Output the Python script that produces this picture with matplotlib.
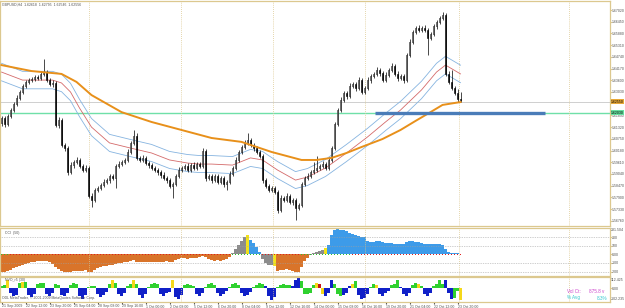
import matplotlib.pyplot as plt

plt.rcParams["font.family"] = ["Liberation Sans Narrow", "Liberation Sans", "DejaVu Sans"]

# GBPUSD H4 candles (open = previous close)
first_open = 1.6150
closes = [
    1.6176, 1.6147, 1.6186, 1.6215, 1.6245, 1.6274, 1.6303, 1.6332, 1.6352, 1.6361,
    1.6366, 1.6376, 1.6371, 1.6391, 1.6400, 1.6361, 1.6342, 1.6347, 1.6142, 1.6167,
    1.6045, 1.6030, 1.5913, 1.5947, 1.5962, 1.5972, 1.5943, 1.5923, 1.5933, 1.5797,
    1.5777, 1.5826, 1.5835, 1.5850, 1.5865, 1.5874, 1.5894, 1.5884, 1.5943, 1.5952,
    1.5962, 1.5972, 1.6011, 1.6055, 1.6089, 1.5982, 1.5972, 1.5982, 1.5957, 1.5947,
    1.5933, 1.5923, 1.5913, 1.5899, 1.5884, 1.5874, 1.5845, 1.5855, 1.5894, 1.5923,
    1.5933, 1.5943, 1.5923, 1.5947, 1.5933, 1.5952, 1.5943, 1.6016, 1.5884, 1.5894,
    1.5874, 1.5894, 1.5865, 1.5884, 1.5855, 1.5865, 1.5904, 1.5933, 1.5972, 1.6011,
    1.6035, 1.6055, 1.6069, 1.6045, 1.6030, 1.6011, 1.5991, 1.5874, 1.5845, 1.5826,
    1.5835, 1.5816, 1.5728, 1.5787, 1.5777, 1.5797, 1.5767, 1.5777, 1.5738, 1.5753,
    1.5855, 1.5884, 1.5894, 1.5913, 1.5923, 1.5933, 1.5943, 1.5952, 1.5933, 1.5972,
    1.6030, 1.6147, 1.6215, 1.6264, 1.6298, 1.6283, 1.6332, 1.6342, 1.6322, 1.6361,
    1.6303, 1.6322, 1.6361, 1.6381, 1.6391, 1.6410, 1.6395, 1.6361, 1.6386, 1.6410,
    1.6430, 1.6391, 1.6371, 1.6381, 1.6361, 1.6483, 1.6547, 1.6595, 1.6615, 1.6605,
    1.6615, 1.6605, 1.6566, 1.6585, 1.6624, 1.6644, 1.6663, 1.6678, 1.6391, 1.6352,
    1.6322, 1.6298, 1.6269, 1.6264,
]
# wick lengths in pips
upper_wick = [
    10, 12, 8, 10, 8, 12, 10, 8, 10, 12,
    8, 10, 12, 15, 63, 10, 8, 12, 10, 15,
    10, 12, 8, 15, 10, 12, 10, 8, 15, 10,
    12, 10, 8, 10, 12, 8, 10, 12, 10, 15,
    8, 10, 12, 10, 30, 15, 10, 12, 10, 8,
    10, 12, 8, 10, 12, 10, 8, 10, 12, 15,
    10, 8, 12, 10, 15, 10, 12, 15, 10, 12,
    8, 10, 12, 10, 8, 10, 12, 10, 15, 10,
    12, 15, 34, 10, 12, 8, 10, 10, 12, 8,
    10, 12, 10, 15, 10, 12, 10, 8, 12, 10,
    10, 12, 15, 10, 40, 60, 10, 15, 10, 12,
    10, 12, 10, 15, 12, 10, 15, 12, 10, 15,
    12, 10, 15, 12, 10, 15, 12, 10, 15, 12,
    15, 10, 12, 10, 12, 10, 15, 12, 10, 12,
    10, 15, 12, 10, 12, 10, 12, 15, 10, 12,
    58, 12, 20, 35,
]
lower_wick = [
    12, 15, 10, 12, 8, 10, 12, 8, 10, 12,
    10, 8, 12, 10, 12, 10, 8, 15, 10, 12,
    10, 12, 15, 10, 12, 8, 10, 12, 8, 10,
    34, 12, 10, 8, 12, 10, 15, 10, 49, 12,
    10, 8, 12, 10, 12, 10, 8, 12, 10, 12,
    8, 10, 12, 15, 10, 12, 10, 58, 10, 12,
    10, 12, 8, 10, 12, 10, 8, 12, 15, 10,
    12, 10, 8, 12, 15, 30, 10, 12, 8, 10,
    12, 10, 8, 10, 12, 10, 8, 12, 10, 12,
    10, 12, 15, 10, 12, 10, 8, 12, 58, 10,
    12, 10, 8, 12, 10, 8, 12, 10, 12, 10,
    8, 10, 12, 10, 8, 12, 10, 8, 12, 10,
    12, 10, 8, 12, 10, 8, 12, 10, 8, 12,
    10, 12, 15, 10, 12, 10, 8, 12, 10, 8,
    12, 10, 83, 10, 8, 12, 10, 8, 10, 12,
    10, 12, 15, 10,
]

# moving averages read at some bars
slow_ma_bars = [0, 10, 20, 25, 30, 40, 50, 60, 70, 80, 90, 100, 105, 110, 115,
                120, 127, 133, 138, 143, 147, 153]
slow_ma = [1.6434, 1.6405, 1.6391, 1.6352, 1.6288, 1.6205, 1.6157, 1.6118, 1.6079,
           1.6060, 1.6011, 1.5972, 1.5972, 1.5982, 1.6006, 1.6035, 1.6074, 1.6118,
           1.6162, 1.6205, 1.6240, 1.6254]
fast_ma_bars = [0, 7, 17, 20, 23, 26, 30, 36, 43, 50, 56, 62, 66, 70, 77, 83, 87,
                92, 98, 102, 108, 115, 122, 128, 133, 140, 145, 148, 153]
fast_ma = [1.6400, 1.6361, 1.6361, 1.6347, 1.6303, 1.6225, 1.6132, 1.6055, 1.6030,
           1.6006, 1.5972, 1.5957, 1.5952, 1.5952, 1.5947, 1.5982, 1.5972, 1.5923,
           1.5874, 1.5889, 1.5933, 1.6006, 1.6084, 1.6157, 1.6215, 1.6313, 1.6400,
           1.6434, 1.6391]
envelope_dev = 0.0026

bid = 1.6255
level = 1.6203
level_start, level_end = 124.5, 181

price_ticks = [1.67020, 1.66450, 1.65880, 1.65310, 1.64740, 1.64170, 1.63600,
               1.63030, 1.61890, 1.61320, 1.60750, 1.60180, 1.59610, 1.59040,
               1.58470, 1.57900, 1.57330, 1.56760]

# CCI(50) histogram
cci = [
    -200, -210, -190, -180, -160, -150, -130, -120, -110, -100,
    -90, -85, -80, -75, -75, -80, -90, -110, -150, -170,
    -190, -200, -205, -200, -195, -190, -195, -190, -185, -200,
    -200, -180, -160, -150, -140, -130, -120, -120, -110, -105,
    -100, -95, -90, -80, -70, -85, -90, -85, -90, -95,
    -90, -85, -90, -95, -90, -80, -90, -85, -70, -60,
    -40, -45, -50, -40, -45, -40, -35, -20, -30, -60,
    -70, -75, -70, -75, -70, -60, -30, 20, 60, 110,
    160, 200, 230, 170, 130, 80, 30, -50, -100, -120,
    -125, -135, -190, -180, -185, -175, -185, -190, -205, -200,
    -150, -80, -40, -10, 20, 30, 40, 45, 70, 110,
    220, 285, 290, 285, 280, 270, 250, 240, 225, 215,
    205, 200, 150, 140, 140, 150, 150, 140, 135, 130,
    130, 125, 120, 115, 120, 140, 150, 150, 145, 140,
    130, 125, 120, 120, 120, 120, 118, 110, 60, 25,
    20, 15, 10, 5,
]
cci_kind = ("o" * 77 + "g" * 5 + "y" + "b" * 4 + "g" * 4 + "y" + "o" * 11
            + "g" * 5 + "y" + "b" * 45)
cci_dots = "g" * 3 + "r" * 74 + "g" * 10 + "r" * 13 + "g" * 17 + "r" * 37

# volume oscillator
vol = [
    20, 30, 85, -40, -70, -60, 50, 60, 65, -60,
    -80, -50, 40, 55, 50, -50, -70, -40, 40, 35,
    -60, -70, -40, 30, 50, 45, -70, -100, -60, 15,
    25, 20, -50, -80, -60, -30, 40, 85, 50, -50,
    -70, -40, 20, 40, 80, 45, -60, -90, -50, 10,
    40, 50, 45, -50, -70, -40, -30, 85, -80, -100,
    -60, 30, 40, 35, 25, -50, -70, -40, 10, 40,
    50, 30, -40, -70, -50, -20, 10, 40, 50, 35,
    -40, -70, -60, -30, 10, 35, 50, 40, 20, -70,
    -110, -80, 10, 30, 40, 35, 30, 20, 80, 130,
    70, -50, -55, -40, 30, 50, 40, -50, -70, -40,
    80, 40, -50, -70, -60, -40, 20, 45, 70, -60,
    -100, -90, -50, 10, 40, 35, -50, -70, -40, -20,
    30, 45, 80, 10, -50, -70, -40, 30, 50, 45,
    25, -50, -70, -40, 20, 45, 80, 40, 85, -40,
    -100, -90, -20, -110,
]
vol_kind = ("ggybbbgyg" "bbbgggbbbgg" "bbbgggbbbggg" "bbbbgygbbbggygbbbgggg"
            "bbbbybbbggggbbbgggg" "bbbbggggbbbbggggbbbbgggggbbbgggggy"
            "rybbbgggbbbyg" "bbbbggybbbbgggbbbbggyg" "bbbggggbbbggygybbbb")

date_bars = list(range(0, 160, 8))
date_labels = ["21 Sep 2009", "22 Sep 12:00", "23 Sep 20:00", "25 Sep 04:00",
               "28 Sep 08:00", "29 Sep 16:00", "1 Oct 00:00", "2 Oct 08:00",
               "5 Oct 12:00", "6 Oct 20:00", "8 Oct 04:00", "9 Oct 12:00",
               "12 Oct 16:00", "14 Oct 00:00", "15 Oct 08:00", "16 Oct 16:00",
               "19 Oct 20:00", "21 Oct 04:00", "22 Oct 12:00", "23 Oct 20:00"]
grid_bars = [29, 59.8, 90.5, 121.2, 152.5, 189]

tan = "#dcc88f"
txt = "#505050"
fs = 2.5

fig = plt.figure(figsize=(6.25, 3.08), dpi=100)
ax = fig.add_axes([0.0, 1 - 226 / 308, 610 / 625, 225 / 308])
cax = fig.add_axes([0.0, 1 - 276 / 308, 610 / 625, 48 / 308], sharex=ax)
vax = fig.add_axes([0.0, 1 - 302 / 308, 610 / 625, 25 / 308], sharex=ax)

for a in (ax, cax, vax):
    for s in a.spines.values():
        s.set_color(tan)
        s.set_linewidth(0.9)
    a.yaxis.tick_right()
    a.tick_params(axis="y", labelsize=fs, length=1.2, color=tan, labelcolor=txt, pad=0.4)
    a.tick_params(axis="x", length=0, labelbottom=False)
    for g in grid_bars:
        a.axvline(g, color=tan, lw=0.6, ls=(0, (1, 1.5)))

# candles
n = len(closes)
idx = list(range(n))
opens = [first_open] + closes[:-1]
highs = [max(o, c) + u / 10000 for o, c, u in zip(opens, closes, upper_wick)]
lows = [min(o, c) - d / 10000 for o, c, d in zip(opens, closes, lower_wick)]
ax.vlines(idx, lows, highs, color="black", lw=0.5, zorder=3)
face = ["white" if c >= o else "black" for o, c in zip(opens, closes)]
ax.bar(idx, [c - o for o, c in zip(opens, closes)], bottom=opens, width=0.62,
       color=face, edgecolor="black", linewidth=0.4, zorder=4)

ax.plot(slow_ma_bars, slow_ma, color="#e8901a", lw=1.4, zorder=5)
ax.plot(fast_ma_bars, fast_ma, color="#d46a6a", lw=0.6, zorder=2)
ax.plot(fast_ma_bars, [v * (1 + envelope_dev) for v in fast_ma], color="#86b4e0", lw=0.6, zorder=2)
ax.plot(fast_ma_bars, [v * (1 - envelope_dev) for v in fast_ma], color="#86b4e0", lw=0.6, zorder=2)

ax.axhline(bid, color="#c8c8c8", lw=0.6, zorder=1)
ax.axhline(level, color="#6fe0a8", lw=1.0, zorder=1)
ax.plot([level_start, level_end], [level, level], color="#4a7cb8", lw=2.4, zorder=6,
        solid_capstyle="butt")

ax.set_xlim(-0.5, 202.83)
ax.set_ylim(1.56504, 1.67461)
ax.set_yticks(price_ticks)
ax.set_yticklabels([f"{p:.5f}" for p in price_ticks])
yt = ax.get_yaxis_transform()
ax.text(1.002, bid, f"{bid:.5f}", transform=yt, fontsize=fs, va="center", ha="left",
        color="black", bbox=dict(boxstyle="square,pad=0.1", fc="#e8a838", ec="none"))
ax.text(1.002, level, f"{level:.5f}", transform=yt, fontsize=fs, va="center", ha="left",
        color="black", bbox=dict(boxstyle="square,pad=0.1", fc="#66e0a0", ec="none"))
ax.text(0.004, 0.992, "GBPUSD,H4  1.62618  1.62795  1.62546  1.62556",
        transform=ax.transAxes, fontsize=fs, va="top", color=txt)

# CCI panel
kind_col = {"o": "#d9742a", "g": "#8c8c8c", "y": "#f2e21a", "b": "#3d9be9"}
cax.bar(idx, cci, width=0.75, color=[kind_col[k] for k in cci_kind], lw=0)
for lv in (200, 100, -100, -200):
    cax.axhline(lv, color="#a0a0a0", lw=0.5, ls=(0, (1, 1.5)))
cax.scatter(idx, [0] * n, s=0.9, marker="s", lw=0,
            c=["#e02020" if d == "r" else "#30c030" for d in cci_dots], zorder=4)
cax.set_ylim(-252, 306)
cax.set_yticks([200, 100, 0, -100, -200])
cax.set_yticklabels(["200", "100", "0.00", "-100", "-200"])
cax.text(1.002, 282, "231.504", transform=cax.get_yaxis_transform(), fontsize=fs,
         va="center", color=txt)
cax.text(0.008, 0.93, "CCI  (50)", transform=cax.transAxes, fontsize=fs, va="top", color=txt)

# volume panel
vol_col = {"g": "#2fd12f", "b": "#1020c8", "y": "#f5d81a", "r": "#c81818"}
vax.bar(idx, vol, width=0.75, color=[vol_col[k] for k in vol_kind], lw=0)
vax.set_ylim(-130, 110)
vax.set_yticks([0])
vax.set_yticklabels(["0.00"])
vax.text(1.002, 0.88, "112.425", transform=vax.transAxes, fontsize=fs, va="center", color=txt)
vax.text(1.002, 0.12, "-102.235", transform=vax.transAxes, fontsize=fs, va="center", color=txt)
vax.text(0.008, 0.95, "NVO_r5 (30)", transform=vax.transAxes, fontsize=fs, va="top", color=txt)
vax.text(0.004, 0.08, "ODL MetaTrader, \u00a9 2001-2009 MetaQuotes Software Corp.",
         transform=vax.transAxes, fontsize=fs, va="bottom", color=txt)
vax.text(0.93, 0.36, "Vol Ct:", transform=vax.transAxes, fontsize=fs + 0.8, color="#cc44cc")
vax.text(0.965, 0.36, "875.8 v", transform=vax.transAxes, fontsize=fs + 0.8, color="#cc44cc")
vax.text(0.93, 0.1, "% Avg", transform=vax.transAxes, fontsize=fs + 0.8, color="#33c8d0")
vax.text(0.978, 0.1, "8.3%", transform=vax.transAxes, fontsize=fs + 0.8, color="#33c8d0")

vax.set_xticks(date_bars)
vax.set_xticklabels(date_labels, ha="left")
vax.tick_params(axis="x", labelbottom=True, labelsize=fs, length=1.5, color=txt,
                labelcolor=txt, pad=0.3)

fig.savefig("out.png", dpi=100, facecolor="white")
